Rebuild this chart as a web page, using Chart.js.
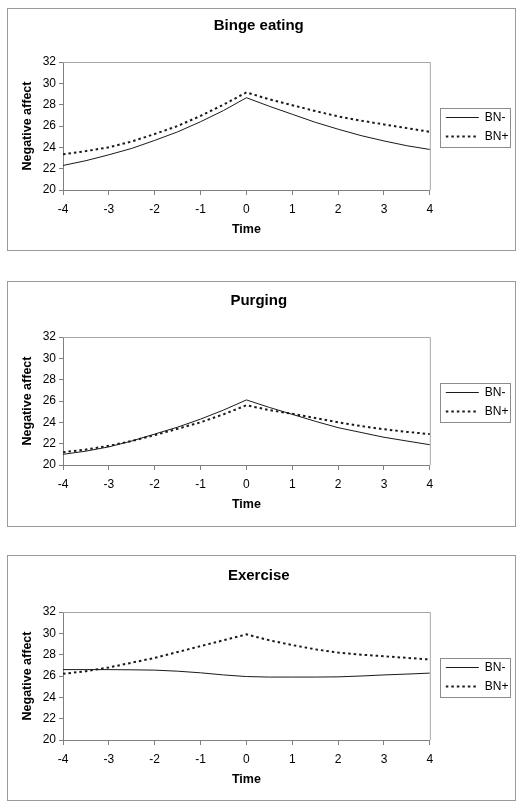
<!DOCTYPE html>
<html>
<head>
<meta charset="utf-8">
<script src="https://cdn.jsdelivr.net/npm/chart.js@4/dist/chart.umd.min.js"></script>
<style>
  html, body { margin: 0; padding: 0; background: #fff; }
  body { width: 522px; height: 807px; position: relative; overflow: hidden; }
  .panel {
    position: absolute;
    left: 7px;
    width: 509px;
    box-sizing: border-box;
    border: 1px solid #9a9a9a;
    background: #fff;
  }
  .panel canvas { position: absolute; left: 0; }
</style>
</head>
<body>
<div class="panel" style="top:8px;height:243px"><canvas id="bingeChart" width="507" height="242" style="top:0"></canvas></div>
<div class="panel" style="top:281px;height:246px"><canvas id="purgingChart" width="507" height="242" style="top:2px"></canvas></div>
<div class="panel" style="top:555px;height:246px"><canvas id="exerciseChart" width="507" height="242" style="top:3px"></canvas></div>

<script>
// Temps autour de l'épisode (valeurs lues tous les 0,5)
const timePoints = [-4, -3.5, -3, -2.5, -2, -1.5, -1, -0.5, 0, 0.5, 1, 1.5, 2, 2.5, 3, 3.5, 4];
const timeTicks = [-4, -3, -2, -1, 0, 1, 2, 3, 4];
const affectTicks = [20, 22, 24, 26, 28, 30, 32];
const seriesLabels = ["BN-", "BN+"];

const bingeMinus = [22.3, 22.75, 23.3, 23.9, 24.65, 25.45, 26.4, 27.45, 28.65, 27.85, 27.1, 26.35, 25.7, 25.1, 24.6, 24.15, 23.8];
const bingePlus = [23.35, 23.65, 24.0, 24.55, 25.25, 26.0, 26.95, 28.0, 29.15, 28.5, 27.95, 27.4, 26.9, 26.5, 26.15, 25.8, 25.45];

const purgingMinus = [21.0, 21.3, 21.7, 22.25, 22.9, 23.55, 24.3, 25.15, 26.1, 25.4, 24.75, 24.1, 23.5, 23.05, 22.6, 22.25, 21.9];
const purgingPlus = [21.2, 21.45, 21.8, 22.25, 22.8, 23.4, 24.0, 24.75, 25.6, 25.15, 24.8, 24.4, 24.0, 23.65, 23.35, 23.1, 22.9];

const exerciseMinus = [26.6, 26.6, 26.6, 26.58, 26.55, 26.45, 26.3, 26.1, 25.95, 25.9, 25.9, 25.9, 25.92, 26.0, 26.1, 26.18, 26.27];
const exercisePlus = [26.2, 26.45, 26.8, 27.25, 27.7, 28.25, 28.8, 29.35, 29.9, 29.35, 28.9, 28.5, 28.2, 28.0, 27.85, 27.7, 27.55];

Chart.defaults.font.family = '"Liberation Sans", Arial, sans-serif';
Chart.defaults.color = "#000";

const LEGEND_PAD = 7;
const LEGEND_DY = -3;

/** Cadre gris autour de la zone de tracé + cadre de la légende (style Excel) */
const excelFrame = {
    id: "excelFrame",
    afterLayout(chart) {
        // place la légende comme dans l'original (un peu décalée)
        const legend = chart.legend;
        const w = legend.right - legend.left;
        legend.left = chart.chartArea.right + 9;
        legend.right = legend.left + w;
        legend.top += LEGEND_DY;
        legend.bottom += LEGEND_DY;
    },
    beforeDatasetsDraw(chart) {
        const { ctx, chartArea: a } = chart;
        ctx.save();
        ctx.strokeStyle = "#a6a6a6";
        ctx.lineWidth = 1;
        ctx.beginPath();
        ctx.moveTo(a.left, a.top + 0.5);
        ctx.lineTo(a.right + 0.5, a.top + 0.5);
        ctx.lineTo(a.right + 0.5, a.bottom);
        ctx.stroke();
        ctx.restore();
    },
    afterDraw(chart) {
        const { ctx, legend } = chart;
        const boxes = legend.legendHitBoxes;
        if (!boxes || boxes.length === 0) return;
        const x0 = Math.round(legend.left + LEGEND_PAD - 6) + 0.5;
        const x1 = x0 + 70;
        const y0 = Math.round(boxes[0].top - 4) + 0.5;
        const last = boxes[boxes.length - 1];
        const y1 = Math.round(last.top + 16) + 0.5;
        ctx.save();
        ctx.strokeStyle = "#8c8c8c";
        ctx.lineWidth = 1;
        ctx.strokeRect(x0, y0, x1 - x0, y1 - y0);
        ctx.restore();
    },
};

function toPoints(values) {
    return timePoints.map((t, i) => ({ x: t, y: values[i] }));
}

function legendLabels(chart) {
    return Chart.defaults.plugins.legend.labels.generateLabels(chart).map((item) => {
        const ds = chart.data.datasets[item.datasetIndex];
        item.lineDash = ds.borderDash || [];
        item.lineWidth = ds.borderWidth;
        item.strokeStyle = ds.borderColor;
        return item;
    });
}

function buildPanel(canvas, title, minusValues, plusValues) {
    return new Chart(canvas, {
        type: "line",
        data: {
            datasets: [
                {
                    label: seriesLabels[0],
                    data: toPoints(minusValues),
                    borderColor: "#1a1a1a",
                    borderWidth: 1,
                    pointRadius: 0,
                    tension: 0,
                },
                {
                    label: seriesLabels[1],
                    data: toPoints(plusValues),
                    borderColor: "#1a1a1a",
                    borderWidth: 2,
                    borderDash: [2.5, 3],
                    pointRadius: 0,
                    tension: 0,
                },
            ],
        },
        options: {
            responsive: false,
            animation: false,
            events: [],
            layout: { padding: { left: 0, right: 5.5, top: 0, bottom: 0 } },
            plugins: {
                title: {
                    display: true,
                    text: title,
                    font: { size: 15, weight: "bold" },
                    padding: { top: 8, bottom: 27 },
                },
                legend: {
                    position: "right",
                    labels: {
                        usePointStyle: true,
                        pointStyle: "line",
                        pointStyleWidth: 33,
                        font: { size: 12 },
                        padding: LEGEND_PAD,
                        generateLabels: legendLabels,
                    },
                },
                tooltip: { enabled: false },
            },
            scales: {
                x: {
                    type: "linear",
                    min: -4,
                    max: 4,
                    afterBuildTicks: (scale) => {
                        scale.ticks = timeTicks.map((v) => ({ value: v }));
                    },
                    afterFit: (scale) => {
                        scale.height = 61;
                    },
                    grid: { drawOnChartArea: false, tickLength: 5, color: "#808080" },
                    border: { color: "#808080" },
                    ticks: { font: { size: 12 }, padding: 7 },
                    title: {
                        display: true,
                        text: "Time",
                        font: { size: 12.5, weight: "bold" },
                        padding: { top: 4, bottom: 14 },
                    },
                },
                y: {
                    min: 20,
                    max: 32,
                    afterBuildTicks: (scale) => {
                        scale.ticks = affectTicks.map((v) => ({ value: v }));
                    },
                    afterFit: (scale) => {
                        scale.width = 55;
                    },
                    grid: { drawOnChartArea: false, tickLength: 4, color: "#808080" },
                    border: { color: "#808080" },
                    ticks: { font: { size: 12 }, padding: 3 },
                    title: {
                        display: true,
                        text: "Negative affect",
                        font: { size: 12.5, weight: "bold" },
                        padding: { top: 12, bottom: 0 },
                    },
                },
            },
        },
        plugins: [excelFrame],
    });
}

buildPanel(document.getElementById("bingeChart"), "Binge eating", bingeMinus, bingePlus);
buildPanel(document.getElementById("purgingChart"), "Purging", purgingMinus, purgingPlus);
buildPanel(document.getElementById("exerciseChart"), "Exercise", exerciseMinus, exercisePlus);
</script>
</body>
</html>
